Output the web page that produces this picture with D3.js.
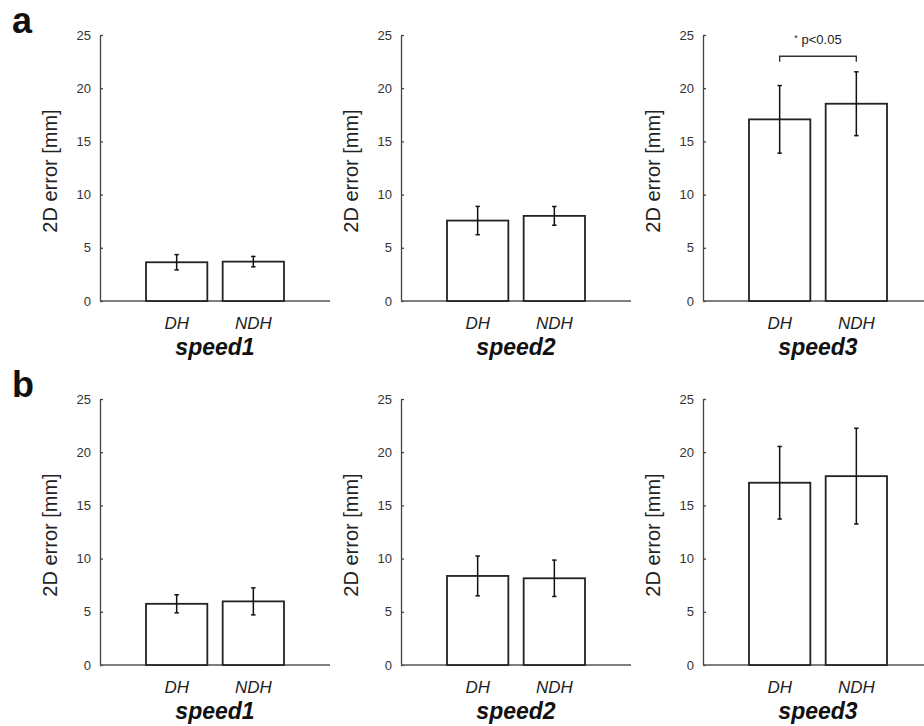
<!DOCTYPE html>
<html>
<head>
<meta charset="utf-8">
<script src="https://cdn.jsdelivr.net/npm/d3@7"></script>
<style>
  body { margin: 0; background: #fff; }
  text { font-family: "Liberation Sans", Arial, sans-serif; }
</style>
</head>
<body>
<div id="chart"></div>
<script>
// categories and values
const hands = ['DH', 'NDH'];
const speeds = ['speed1', 'speed2', 'speed3'];
const yTicks = [0, 5, 10, 15, 20, 25];

// panel a: mean and error per speed, [DH, NDH]
const meanA = [[3.64, 3.70], [7.56, 8.00], [17.07, 18.54]];
const errA = [[0.72, 0.49], [1.33, 0.88], [3.18, 3.00]];
// panel b
const meanB = [[5.75, 5.98], [8.37, 8.15], [17.13, 17.75]];
const errB = [[0.85, 1.27], [1.87, 1.71], [3.41, 4.50]];

// significance marker (panel a, speed3)
const sigLabel = 'p<0.05';
const sigLevel = 23.0;

const width = 924;
const height = 726;
const axisW = 230;
const axisH = 266;
const panelX = [100, 401, 703];
const rowTop = [35, 399];

const svg = d3.select('#chart').append('svg')
  .attr('width', width)
  .attr('height', height);

const yScale = d3.scaleLinear()
  .domain([0, 25])
  .range([axisH, 0]);

// MATLAB-like xlim [0 3] with bars at 1 and 2
const xScale = d3.scaleLinear()
  .domain([0, 3])
  .range([0, axisW]);
const barW = xScale(0.8) - xScale(0);

function drawPanel(g, means, errs, speed) {
  // y axis
  const yAxis = d3.axisLeft(yScale)
    .tickValues(yTicks)
    .tickSizeInner(-3)
    .tickSizeOuter(0)
    .tickPadding(9);

  const ya = g.append('g').attr('class', 'yAxis').call(yAxis);
  ya.select('.domain').attr('stroke', '#444').attr('stroke-width', 1.3);
  ya.selectAll('.tick line').attr('stroke', '#444').attr('stroke-width', 1.3);
  ya.selectAll('.tick text')
    .style('font-size', '13px')
    .style('fill', '#333');

  // x baseline
  g.append('line')
    .attr('x1', 0)
    .attr('x2', axisW)
    .attr('y1', yScale(0))
    .attr('y2', yScale(0))
    .attr('stroke', '#555')
    .attr('stroke-width', 1.3);

  // y label
  g.append('text')
    .attr('transform', `translate(-50,${axisH / 2 + 3}) rotate(-90)`)
    .attr('text-anchor', 'middle')
    .attr('dominant-baseline', 'central')
    .style('font-size', '20px')
    .style('fill', '#222')
    .text('2D error [mm]');

  const bars = hands.map((h, i) => ({ hand: h, pos: i + 1, mean: means[i], err: errs[i] }));

  g.selectAll('rect.bar')
    .data(bars)
    .join('rect')
    .attr('class', 'bar')
    .attr('x', (d) => xScale(d.pos) - barW / 2)
    .attr('y', (d) => yScale(d.mean))
    .attr('width', barW)
    .attr('height', (d) => yScale(0) - yScale(d.mean))
    .style('fill', '#fff')
    .style('stroke', '#222')
    .style('stroke-width', 1.8);

  // error bars
  const eb = g.selectAll('g.err')
    .data(bars)
    .join('g')
    .attr('class', 'err')
    .style('stroke', '#111')
    .style('stroke-width', 1.5);

  eb.append('line')
    .attr('x1', (d) => xScale(d.pos))
    .attr('x2', (d) => xScale(d.pos))
    .attr('y1', (d) => yScale(d.mean - d.err))
    .attr('y2', (d) => yScale(d.mean + d.err));

  [-1, 1].forEach((s) => {
    eb.append('line')
      .attr('x1', (d) => xScale(d.pos) - 2.2)
      .attr('x2', (d) => xScale(d.pos) + 2.2)
      .attr('y1', (d) => yScale(d.mean + s * d.err))
      .attr('y2', (d) => yScale(d.mean + s * d.err));
  });

  // category labels
  g.selectAll('text.cat')
    .data(bars)
    .join('text')
    .attr('class', 'cat')
    .attr('x', (d) => xScale(d.pos))
    .attr('y', axisH + 28)
    .attr('text-anchor', 'middle')
    .style('font-size', '17px')
    .style('font-style', 'italic')
    .style('fill', '#222')
    .text((d) => d.hand);

  g.append('text')
    .attr('x', xScale(1.5))
    .attr('y', axisH + 54)
    .attr('text-anchor', 'middle')
    .style('font-size', '23px')
    .style('font-weight', 'bold')
    .style('font-style', 'italic')
    .style('fill', '#111')
    .text(speed);
}

const rows = [
  { letter: 'a', means: meanA, errs: errA },
  { letter: 'b', means: meanB, errs: errB }
];

rows.forEach((row, r) => {
  svg.append('text')
    .attr('x', 12)
    .attr('y', rowTop[r] - 2)
    .style('font-size', '36px')
    .style('font-weight', 'bold')
    .style('fill', '#111')
    .text(row.letter);

  speeds.forEach((sp, i) => {
    const g = svg.append('g')
      .attr('transform', `translate(${panelX[i]},${rowTop[r]})`);
    drawPanel(g, row.means[i], row.errs[i], sp);

    if (r === 0 && i === 2) {
      const yb = yScale(sigLevel);
      g.append('path')
        .attr('d', `M${xScale(1)},${yb + 5.5}V${yb}H${xScale(2)}V${yb + 5.5}`)
        .style('fill', 'none')
        .style('stroke', '#333')
        .style('stroke-width', 1.4);

      const t = g.append('text')
        .attr('x', xScale(1.5))
        .attr('y', yb - 12)
        .attr('text-anchor', 'middle')
        .style('font-size', '13px')
        .style('fill', '#222');
      t.append('tspan')
        .attr('dy', -3)
        .style('font-size', '9px')
        .text('*');
      t.append('tspan')
        .attr('dy', 3)
        .text(' ' + sigLabel);
    }
  });
});
</script>
</body>
</html>
